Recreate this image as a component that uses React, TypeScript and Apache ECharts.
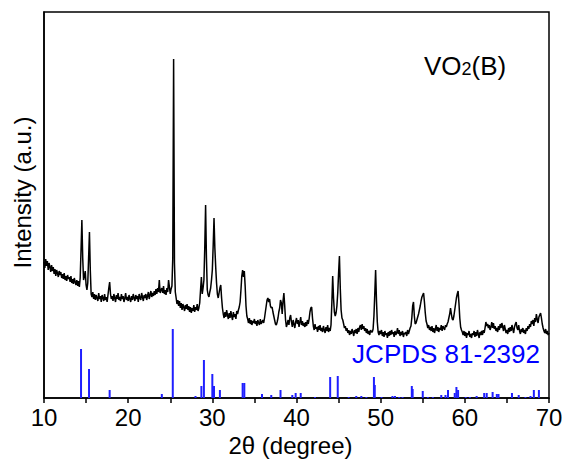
import React, { useEffect, useRef } from "react";
import * as echarts from "echarts";

// XRD pattern sampled from 10.0° to 70.0° every 0.1°
const thetaStart = 10;
const thetaStep = 0.1;
const intensity: number[] = [
  136,130,139,132,137,128,135,131,126,133,
  127,131,124,129,122,128,125,121,127,123,
  126,120,124,119,125,118,122,117,123,119,
  121,116,122,115,119,114,120,116,113,118,
  112,117,111,120,148,178,140,118,122,127,
  113,108,115,140,166,128,104,101,106,99,
  104,98,103,100,97,105,99,102,96,103,
  100,97,104,98,101,96,103,110,116,104,
  99,102,97,104,100,96,103,99,105,98,
  101,97,104,99,102,96,100,105,98,101,
  97,103,99,96,102,98,104,100,97,103,
  99,102,96,104,100,98,105,101,97,103,
  100,104,98,102,106,99,103,107,101,105,
  102,107,103,109,104,110,106,118,105,108,
  110,105,112,104,108,103,110,106,118,111,
  104,109,112,140,339,135,106,100,94,98,
  92,97,90,95,88,94,91,87,93,89,
  94,88,92,86,91,85,90,87,93,86,
  91,88,94,87,90,95,108,121,104,110,
  118,150,193,140,108,103,101,106,110,118,
  128,152,180,150,131,115,104,100,105,110,
  113,100,90,84,80,86,81,88,83,79,
  85,80,87,82,78,86,81,84,79,87,
  84,88,91,96,108,122,128,121,127,112,
  92,82,79,75,80,74,78,73,77,75,
  79,74,77,72,78,75,73,79,74,76,
  78,75,80,86,92,98,100,96,99,92,
  90,91,86,82,78,74,73,76,80,86,
  90,98,95,84,97,105,92,78,71,74,
  78,73,80,83,76,71,78,74,70,76,
  80,74,78,71,76,81,73,77,72,75,
  71,76,72,78,74,79,86,90,91,80,
  72,68,74,69,71,66,72,68,73,67,
  70,66,72,68,65,71,67,73,66,70,
  67,73,95,122,100,86,82,85,92,105,
  125,142,110,88,80,78,74,70,72,67,
  70,65,68,63,67,64,69,66,62,68,
  65,69,64,70,66,71,73,68,74,69,
  72,67,70,65,69,64,67,63,68,66,
  66,69,82,104,128,98,76,66,63,67,
  64,68,62,66,61,67,63,65,60,66,
  62,67,63,68,64,66,61,67,63,65,
  70,64,68,62,66,63,67,61,65,64,
  66,62,68,64,67,70,72,80,92,96,
  82,74,75,78,81,84,88,92,97,101,
  103,105,96,85,77,74,70,73,68,71,
  67,72,66,70,65,69,73,67,71,66,
  70,68,73,67,72,70,68,73,71,74,
  76,80,84,90,84,79,78,82,88,94,
  100,104,107,95,80,71,68,66,63,67,
  62,66,60,65,63,67,61,64,60,65,
  63,67,61,66,62,68,64,60,66,63,
  67,63,68,65,70,76,72,74,70,73,
  68,71,76,70,75,69,72,67,70,66,
  72,68,74,70,75,71,67,73,69,65,
  68,64,70,66,71,67,73,69,65,71,
  74,76,70,68,73,67,64,69,66,70,
  65,68,64,70,67,72,69,74,71,77,
  74,78,72,80,76,84,79,75,81,83,
  85,80,74,70,67,65,69,64,67,63,
  65,
];

// JCPDS 81-2392 reference lines
const refTheta: number[] = [
  14.4, 15.35, 17.8, 24.0, 25.3, 28.0, 28.7, 29.0, 30.0, 30.2, 30.9, 33.6, 33.8,
  35.9, 37.0, 38.1, 39.5, 39.9, 40.5, 42.2, 44.0, 44.9, 46.2, 47.1, 47.7, 48.3,
  49.2, 49.3, 50.1, 51.4, 51.7, 52.2, 52.6, 53.7, 53.8, 55.0, 55.6, 56.2, 57.2,
  57.7, 58.0, 58.8, 59.0, 59.2, 60.1, 60.6, 61.4, 62.3, 62.6, 63.3, 63.8, 64.0,
  65.6, 66.4, 67.2, 67.8, 68.2, 68.8,
];
const refHeight: number[] = [
  49, 29, 8, 4, 69, 2, 12, 38, 24, 12, 8, 15, 15,
  4, 3, 8, 3, 5, 5, 1, 21, 22, 1, 2, 2, 1,
  21, 13, 1, 2, 2, 1, 1, 12, 9, 7, 1, 1, 3,
  3, 8, 5, 11, 8, 1, 1, 2, 5, 5, 6, 4, 4,
  5, 3, 1, 2, 8, 8,
];

const xTicks = { min: 10, max: 70, interval: 5 };
const refName = "JCPDS 81-2392";
const xName = "2θ (degree)";
const yName = "Intensity (a.u.)";

const FONT = "'Liberation Sans', Arial, Helvetica, sans-serif";

export default function App() {
  const ref = useRef<HTMLDivElement>(null);
  useEffect(() => {
    if (!ref.current) return;
    const chart = echarts.init(ref.current, undefined, { renderer: "svg" });
    const lineData = intensity.map((v, i) => [
      +(thetaStart + i * thetaStep).toFixed(2),
      v,
    ]);
    const stickData = refTheta.map((t, i) => [t, refHeight[i]]);
    chart.setOption({
      animation: false,
      backgroundColor: "#fff",
      grid: {
        left: 44,
        right: 13,
        top: 12,
        bottom: 61,
        show: true,
        borderColor: "#000",
        borderWidth: 1.5,
        containLabel: false,
        outerBoundsMode: "none",
      },
      xAxis: {
        type: "value",
        min: xTicks.min,
        max: xTicks.max,
        interval: xTicks.interval,
        name: xName,
        nameLocation: "middle",
        nameGap: 34,
        nameTextStyle: {
          fontFamily: FONT,
          fontSize: 24,
          color: "#000",
          padding: [0, 12, 0, 0],
        },
        axisLine: { show: true, lineStyle: { color: "#000", width: 1.5 } },
        axisTick: {
          show: true,
          inside: false,
          length: 5,
          lineStyle: { color: "#000", width: 1.5 },
        },
        axisLabel: {
          fontFamily: FONT,
          fontSize: 24,
          color: "#000",
          margin: 7,
          formatter: (v: number) => (v % 10 === 0 ? String(v) : ""),
        },
        splitLine: { show: false },
      },
      yAxis: {
        type: "value",
        min: 0,
        max: 386,
        name: yName,
        nameLocation: "middle",
        nameGap: 10,
        nameTextStyle: {
          fontFamily: FONT,
          fontSize: 24,
          color: "#000",
          padding: [0, 0, 0, 25],
        },
        axisLine: { show: true, lineStyle: { color: "#000", width: 1.5 } },
        axisTick: { show: false },
        axisLabel: { show: false },
        splitLine: { show: false },
      },
      graphic: [
        {
          type: "text",
          left: 424,
          top: 53,
          style: {
            text: "{a|VO}{b|2}{a|(B)}",
            fill: "#000",
            rich: {
              a: { fontFamily: FONT, fontSize: 26, fill: "#000" },
              b: { fontFamily: FONT, fontSize: 18, fill: "#000", padding: [5, 0, 0, 0] },
            },
          },
        },
        {
          type: "text",
          right: 22,
          top: 341,
          style: {
            text: refName,
            fill: "#0000ff",
            font: `26px ${FONT}`,
          },
        },
      ],
      series: [
        {
          type: "bar",
          data: stickData,
          barWidth: 2,
          itemStyle: { color: "#1f1fff" },
          silent: true,
        },
        {
          type: "line",
          data: lineData,
          showSymbol: false,
          symbol: "none",
          lineStyle: { color: "#000", width: 1.5 },
          silent: true,
        },
      ],
    });
    return () => chart.dispose();
  }, []);
  return (
    <div
      ref={ref}
      style={{ position: "fixed", left: 0, top: 0, width: 562, height: 459 }}
    />
  );
}
